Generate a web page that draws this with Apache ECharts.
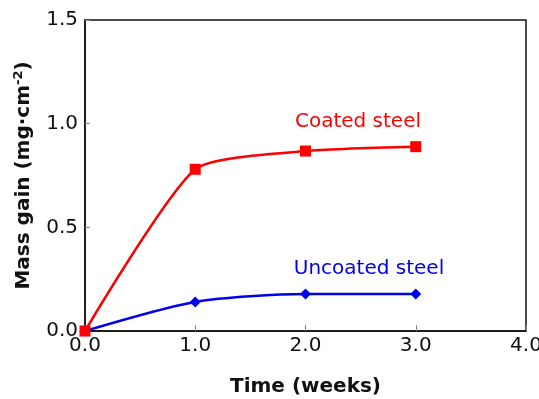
<!DOCTYPE html>
<html>
<head>
<meta charset="utf-8">
<script src="https://cdn.jsdelivr.net/npm/echarts@6/dist/echarts.min.js"></script>
<style>
  html, body { margin: 0; padding: 0; background: #fff; }
  #chart { width: 539px; height: 399px; }
</style>
</head>
<body>
<div id="chart"></div>
<script>
// data
const weeks = [0, 1, 2, 3]
const coatedSteel = [0, 0.78, 0.868, 0.889]
const uncoatedSteel = [0, 0.14, 0.178, 0.178]
// where the two curve names sit (data coords)
const coatedLabelAt = [2.476, 1.008]
const uncoatedLabelAt = [2.576, 0.299]

const font = '"DejaVu Sans", sans-serif'
const chart = echarts.init(document.getElementById('chart'))

const pairs = (xs, ys) => xs.map((x, i) => [x, ys[i]])

// invisible point carrying a text label
const textMark = (name, at, color) => ({
  name,
  type: 'scatter',
  data: [at],
  symbol: 'rect',
  symbolSize: 1,
  itemStyle: { color: 'rgba(0,0,0,0)', opacity: 1 },
  silent: true,
  z: 5,
  label: {
    show: true, position: 'inside', formatter: name, opacity: 1,
    fontFamily: font, fontSize: 20, color
  }
})

chart.setOption({
  animation: false,
  textStyle: { fontFamily: font },
  grid: {
    left: 85, right: 13, top: 20, bottom: 68,
    containLabel: false,
    outerBoundsMode: 'none',
    show: true, borderColor: '#111', borderWidth: 1.5
  },
  xAxis: {
    type: 'value',
    min: 0, max: 4, interval: 1,
    name: 'Time (weeks)',
    nameLocation: 'middle',
    nameGap: 46,
    nameTextStyle: { fontFamily: font, fontSize: 20, fontWeight: 'bold', color: '#111' },
    axisLine: { show: true, lineStyle: { color: '#111', width: 1.5 } },
    axisTick: { show: true, inside: true, length: 6, lineStyle: { color: '#888', width: 1 } },
    axisLabel: {
      fontFamily: font, fontSize: 20, color: '#111', margin: 5,
      formatter: v => v.toFixed(1)
    },
    splitLine: { show: false }
  },
  yAxis: {
    type: 'value',
    min: 0, max: 1.5, interval: 0.5,
    name: '{t|Mass gain (mg·cm}{s|-2}{t|)}',
    nameLocation: 'middle',
    nameGap: 50,
    nameTextStyle: {
      rich: {
        t: { fontFamily: font, fontSize: 20, fontWeight: 'bold', color: '#111' },
        s: { fontFamily: font, fontSize: 13, fontWeight: 'bold', color: '#111', verticalAlign: 'top', padding: [0, 0, 10, 0] }
      }
    },
    axisLine: { show: true, lineStyle: { color: '#111', width: 1.5 } },
    axisTick: { show: true, inside: true, length: 5, lineStyle: { color: '#888', width: 1 } },
    axisLabel: {
      fontFamily: font, fontSize: 20, color: '#111', margin: 7,
      formatter: v => v.toFixed(1)
    },
    splitLine: { show: false }
  },
  series: [
    {
      name: 'Uncoated steel',
      type: 'line',
      data: pairs(weeks, uncoatedSteel),
      smooth: 0.25,
      symbol: 'diamond',
      symbolSize: 11,
      lineStyle: { color: '#0000ee', width: 2.5 },
      itemStyle: { color: '#0000ee' },
      z: 2
    },
    {
      name: 'Coated steel',
      type: 'line',
      data: pairs(weeks, coatedSteel),
      smooth: 0.2,
      symbol: 'rect',
      symbolSize: 11,
      lineStyle: { color: '#ff0000', width: 2.5 },
      itemStyle: { color: '#ff0000' },
      z: 3
    },
    textMark('Coated steel', coatedLabelAt, '#ff0000'),
    textMark('Uncoated steel', uncoatedLabelAt, '#0000ee')
  ]
})
</script>
</body>
</html>
